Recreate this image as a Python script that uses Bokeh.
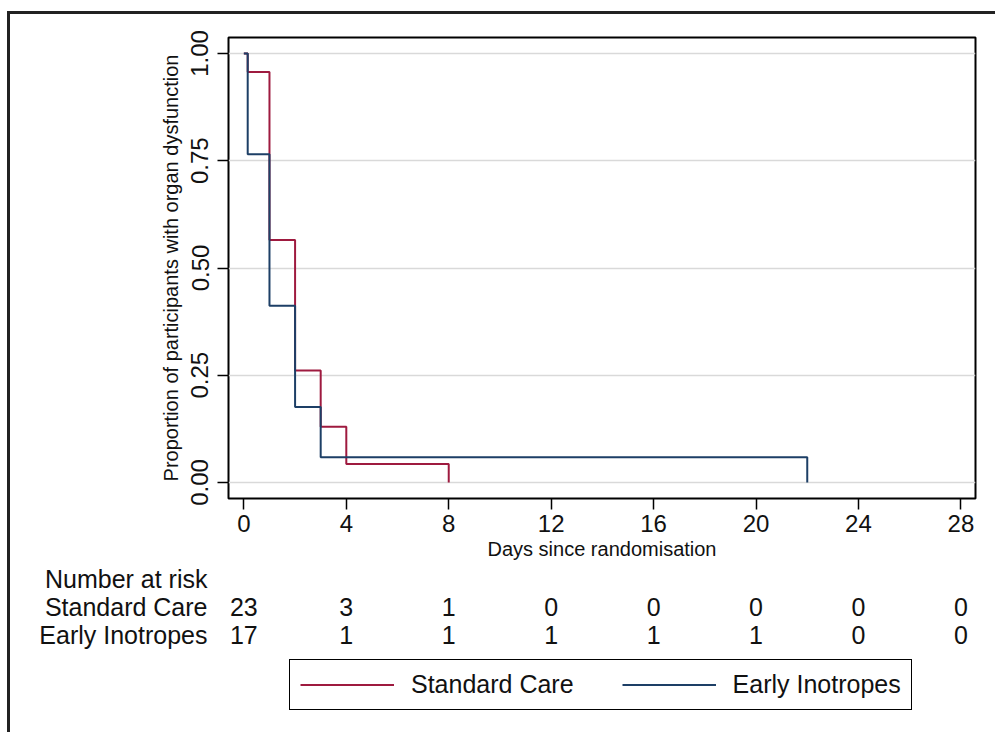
from bokeh.plotting import figure
from bokeh.layouts import column
from bokeh.models import Range1d, FixedTicker, NumeralTickFormatter, Legend, LegendItem, ColumnDataSource
from bokeh.core.properties import value
from bokeh.embed import file_html
from bokeh.resources import INLINE

# ---- data ----
groups = ["Standard Care", "Early Inotropes"]
days_sc = [0, 0.15, 1, 2, 3, 4, 8]
surv_sc = [1.0, 0.957, 0.565, 0.261, 0.130, 0.043, 0.0]
days_ei = [0, 0.15, 1, 2, 3, 22]
surv_ei = [1.0, 0.765, 0.412, 0.176, 0.059, 0.0]
x_ticks = [0, 4, 8, 12, 16, 20, 24, 28]
y_ticks = [0.0, 0.25, 0.5, 0.75, 1.0]
risk_sc = [23, 3, 1, 0, 0, 0, 0, 0]
risk_ei = [17, 1, 1, 1, 1, 1, 0, 0]
row_titles = ["Number at risk"] + groups

RED = "#9e1a3f"
BLUE = "#1d3f66"
FONT = "Liberation Sans"
TXT = "#111111"
NAN = float("nan")

# ---- layout constants (pixels) ----
W = 985
H1 = 550
H2 = 168
FL, FR, FT, FB = 218, 20, 23, 66          # frame borders of the main figure
X0, X1 = -0.6, 28.57
Y0, Y1 = -0.0373, 1.0373

p = figure(width=W, height=H1, output_backend="svg", toolbar_location=None,
           x_range=Range1d(X0, X1), y_range=Range1d(Y0, Y1),
           min_border_left=FL, min_border_right=FR, min_border_top=FT, min_border_bottom=FB)
p.background_fill_color = "white"
p.border_fill_color = "white"
p.outline_line_color = "black"
p.outline_line_width = 2
p.outline_line_alpha = 1

p.xgrid.visible = False
p.ygrid.ticker = FixedTicker(ticks=y_ticks)
p.ygrid.grid_line_color = "#d9d9d9"
p.ygrid.grid_line_width = 1.5

p.xaxis.ticker = FixedTicker(ticks=x_ticks)
p.yaxis.ticker = FixedTicker(ticks=y_ticks)
p.yaxis.formatter = NumeralTickFormatter(format="0.00")
for ax in (p.xaxis, p.yaxis):
    ax.axis_line_color = None
    ax.major_tick_in = 0
    ax.major_tick_out = 11
    ax.major_tick_line_color = "black"
    ax.major_tick_line_width = 1.5
    ax.minor_tick_line_color = None
    ax.major_label_text_font = FONT
    ax.major_label_text_font_size = "24px"
    ax.major_label_text_color = TXT
    ax.axis_label_text_font = FONT
    ax.axis_label_text_font_size = "20px"
    ax.axis_label_text_font_style = "normal"
    ax.axis_label_text_color = TXT
p.xaxis.axis_label = "Days since randomisation"
p.yaxis.axis_label = "Proportion of participants with organ dysfunction"
p.yaxis.major_label_orientation = "vertical"
p.xaxis.major_label_standoff = 5
p.xaxis.axis_label_standoff = 3
p.yaxis.major_label_standoff = 9
p.yaxis.axis_label_standoff = 7

r_sc = p.step(days_sc, surv_sc, mode="after", line_color=RED, line_width=2)
r_ei = p.step(days_ei, surv_ei, mode="after", line_color=BLUE, line_width=2)

# ---- number-at-risk table and legend, sharing the day axis ----
row_y = [13, 42, 70]   # vertical centres of the three rows (px from top of the table panel)
q = figure(width=W, height=H2, output_backend="svg", toolbar_location=None,
           x_range=p.x_range, y_range=Range1d(H2, 0),
           min_border_left=FL, min_border_right=FR, min_border_top=0, min_border_bottom=0)
q.xaxis.visible = False
q.grid.visible = False
q.outline_line_color = None
q.background_fill_color = "white"
q.border_fill_color = "white"
ya = q.yaxis[0]
ya.ticker = FixedTicker(ticks=row_y)
ya.major_label_overrides = {yy: t for yy, t in zip(row_y, row_titles)}
ya.axis_line_color = None
ya.major_tick_line_color = None
ya.minor_tick_line_color = None
ya.major_tick_in = 0
ya.major_tick_out = 0
ya.major_label_standoff = 21
ya.major_label_text_font = FONT
ya.major_label_text_font_size = "25px"
ya.major_label_text_color = TXT

for risk, yy in zip([risk_sc, risk_ei], row_y[1:]):
    src = ColumnDataSource(dict(x=x_ticks, y=[yy] * len(x_ticks), t=[str(n) for n in risk]))
    q.text(x="x", y="y", text="t", source=src, text_align="center", text_baseline="middle",
           text_font=value(FONT), text_font_size="25px", text_color=TXT)

# legend keys (no visible data; only used to draw the legend samples)
l_sc = q.line(x=[NAN, NAN], y=[NAN, NAN], line_color=RED, line_width=2)
l_ei = q.line(x=[NAN, NAN], y=[NAN, NAN], line_color=BLUE, line_width=2)
legend = Legend(items=[LegendItem(label=groups[0], renderers=[l_sc]),
                       LegendItem(label=groups[1], renderers=[l_ei])],
                orientation="horizontal", location=(61, 22))
legend.margin = 0
legend.padding = 10
legend.spacing = 48
legend.glyph_width = 94
legend.glyph_height = 23
legend.label_height = 23
legend.label_standoff = 17
legend.label_text_font = FONT
legend.label_text_font_size = "25px"
legend.label_text_color = TXT
legend.border_line_color = "black"
legend.border_line_alpha = 1
legend.border_line_width = 1.5
legend.background_fill_alpha = 1
q.add_layout(legend)

layout = column(p, q, spacing=0,
                styles={"border-top": "3px solid #222", "border-left": "3px solid #222",
                        "margin-left": "7px", "margin-top": "11px"})

open("out.html", "w").write(file_html(layout, INLINE))
